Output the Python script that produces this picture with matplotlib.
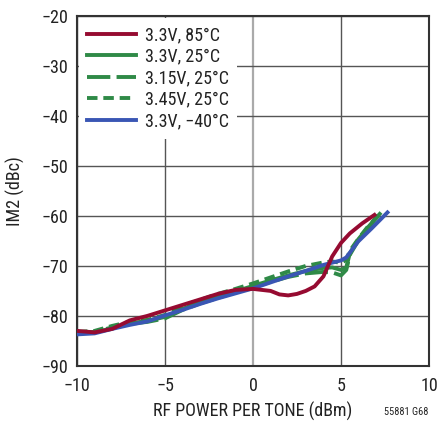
import matplotlib
matplotlib.use("Agg")
import matplotlib.pyplot as plt
from matplotlib import font_manager

names = set(f.name for f in font_manager.fontManager.ttflist)
fam = next((n for n in ["Roboto Condensed", "Archivo Narrow", "Liberation Sans Narrow", "Liberation Sans"] if n in names), "DejaVu Sans")
plt.rcParams['font.family'] = [fam, 'DejaVu Sans']

# Data
x_85 = [-10, -9, -8, -7, -6, -5, -4, -3, -2, -1, 0, 1, 1.5, 2, 2.5, 3, 3.5, 4, 4.5, 5, 5.5, 6.2, 6.9]
y_85 = [-83.0, -83.3, -82.6, -80.9, -80.0, -78.9, -77.8, -76.7, -75.6, -74.8, -74.6, -75.0, -75.7, -75.9, -75.6, -75.0, -74.1, -72.1, -68.1, -65.4, -63.5, -61.5, -59.8]

x_25 = [-10, -9, -8, -7, -6, -5, -4, -3, -2, -1, 0, 1, 2, 3, 4, 4.5, 5, 5.3, 5.5, 6.0, 6.6, 7.2]
y_25 = [-83.5, -83.3, -82.5, -81.5, -81.0, -80.2, -78.6, -77.3, -76.2, -75.1, -74.0, -72.9, -71.9, -71.0, -70.4, -70.3, -70.8, -70.3, -67.5, -64.6, -62.0, -59.6]

x_315 = [-10, -9, -8, -7, -6, -5, -4, -3, -2, -1, 0, 1, 2, 3, 4, 4.5, 5, 5.3, 5.5, 6.0, 6.6, 7.1]
y_315 = [-83.4, -83.2, -82.3, -81.6, -81.2, -80.5, -78.8, -77.5, -76.4, -75.3, -74.2, -73.2, -72.2, -71.5, -71.2, -71.3, -71.9, -70.8, -67.8, -64.8, -62.2, -59.8]

x_345 = [-10, -9, -8, -7, -6, -5, -4, -3, -2, -1, 0, 1, 2, 3, 4, 4.5, 5, 5.3, 5.5, 6.0, 6.6, 7.3]
y_345 = [-83.2, -83.0, -82.0, -81.2, -80.8, -79.8, -78.0, -76.8, -75.6, -74.6, -73.5, -72.3, -71.1, -70.0, -69.3, -69.1, -69.4, -68.8, -67.0, -64.5, -61.8, -59.4]

x_m40 = [-10, -9, -8, -7, -6, -5, -4, -3, -2, -1, 0, 1, 2, 3, 4, 5, 5.3, 5.98, 6.74, 7.64]
y_m40 = [-83.7, -83.5, -82.6, -81.8, -81.1, -79.9, -78.8, -77.6, -76.5, -75.5, -74.5, -73.3, -72.1, -71.0, -69.8, -68.9, -68.3, -65.1, -62.5, -59.3]

labels = ["3.3V, 85°C", "3.3V, 25°C", "3.15V, 25°C", "3.45V, 25°C", "3.3V, \u221240°C"]
xticks = [-10, -5, 0, 5, 10]
yticks = [-90, -80, -70, -60, -50, -40, -30, -20]

RED = "#960b31"
GREEN = "#2f8a47"
BLUE = "#3a56b4"

fig = plt.figure(figsize=(4.4, 4.22), dpi=100)
ax = fig.add_axes([0.175, 0.133, 0.8, 0.829])

lw = 2.8
ax.plot(x_85, y_85, color=RED, lw=lw, label=labels[0], zorder=5)
ax.plot(x_25, y_25, color=GREEN, lw=lw, label=labels[1], zorder=3)
ax.plot(x_315, y_315, color=GREEN, lw=lw, ls=(0, (6.0, 1.6)), label=labels[2], zorder=3)
ax.plot(x_345, y_345, color=GREEN, lw=lw, ls=(0, (2.7, 1.5)), label=labels[3], zorder=3)
ax.plot(x_m40, y_m40, color=BLUE, lw=lw, label=labels[4], zorder=4)

ax.set_xlim(-10, 10)
ax.set_ylim(-90, -20)
ax.set_xticks(xticks)
ax.set_yticks(yticks)
ax.set_xticklabels([str(t).replace('-', '\u2212') for t in xticks])
ax.set_yticklabels([str(t).replace('-', '\u2212') for t in yticks])
ax.tick_params(length=0, labelsize=13, colors="#222222")
ax.tick_params(axis='x', pad=8)
ax.tick_params(axis='y', pad=6)
ax.grid(True, color="#555555", lw=1.0)
for gl in ax.get_xgridlines():
    if abs(gl.get_xdata()[0]) < 1e-9:
        gl.set_color("#aaaaaa")
        gl.set_linewidth(1.6)
for s in ax.spines.values():
    s.set_color("#333333")
    s.set_linewidth(1.5)

ax.set_xlabel("RF POWER PER TONE (dBm)", fontsize=13, color="#222222")
ax.set_ylabel("IM2 (dBc)", fontsize=13, color="#222222")
ax.yaxis.set_label_coords(-0.148, 0.5)
ax.xaxis.set_label_coords(0.5, -0.103)

leg = ax.legend(loc="upper left", frameon=True, fontsize=13, handlelength=2.7,
                borderaxespad=0.1, labelspacing=0.2, handletextpad=0.5, borderpad=0.45)
leg.get_frame().set_edgecolor("none")
leg.get_frame().set_facecolor("white")
leg.get_frame().set_alpha(1.0)
leg.get_frame().set_boxstyle("square", pad=0)
for t in leg.get_texts():
    t.set_color("#222222")

fig.text(0.973, 0.012, "55881 G68", ha="right", va="bottom", fontsize=7.5, color="#222222")

fig.savefig("out.png", dpi=100)
